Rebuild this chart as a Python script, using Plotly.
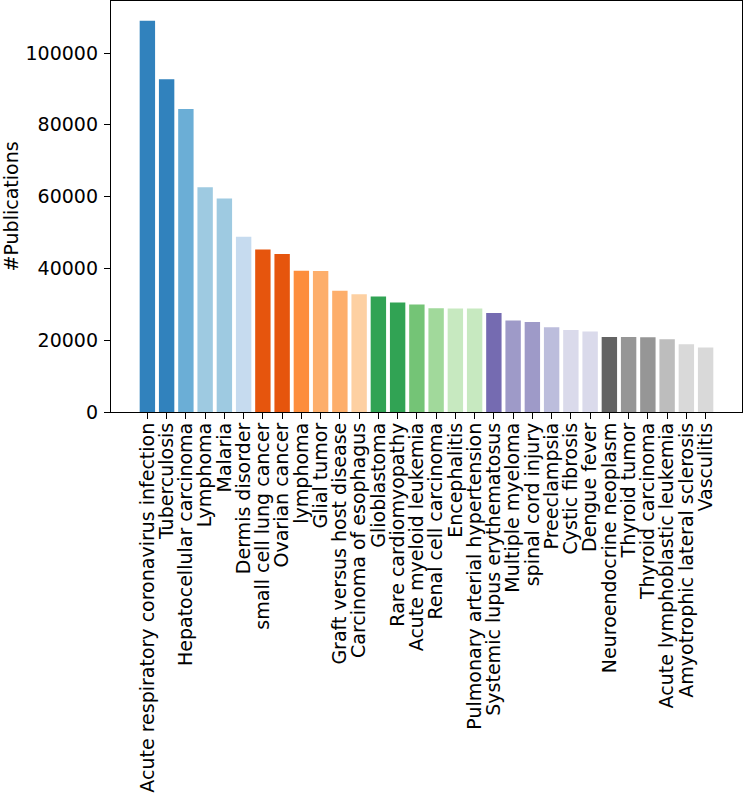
import plotly.graph_objects as go

categories = [
    "Acute respiratory coronavirus infection", "Tuberculosis", "Hepatocellular carcinoma",
    "Lymphoma", "Malaria", "Dermis disorder", "small cell lung cancer", "Ovarian cancer",
    "lymphoma", "Glial tumor", "Graft versus host disease", "Carcinoma of esophagus",
    "Glioblastoma", "Rare cardiomyopathy", "Acute myeloid leukemia", "Renal cell carcinoma",
    "Encephalitis", "Pulmonary arterial hypertension", "Systemic lupus erythematosus",
    "Multiple myeloma", "spinal cord injury", "Preeclampsia", "Cystic fibrosis",
    "Dengue fever", "Neuroendocrine neoplasm", "Thyroid tumor", "Thyroid carcinoma",
    "Acute lymphoblastic leukemia", "Amyotrophic lateral sclerosis", "Vasculitis",
]
publications = [
    109000, 92700, 84400, 62600, 59500, 48800, 45300, 44000, 39330, 39250,
    33750, 32830, 32190, 30520, 29960, 28930, 28840, 28840, 27615, 25500,
    25100, 23630, 22870, 22430, 20920, 20920, 20830, 20280, 18880, 17960,
]
bar_colors = [
    "#3182bd", "#3182bd", "#6baed6", "#9ecae1", "#9ecae1", "#c6dbef",
    "#e6550d", "#e6550d", "#fd8d3c", "#fdae6b", "#fdae6b", "#fdd0a2",
    "#31a354", "#31a354", "#74c476", "#a1d99b", "#c7e9c0", "#c7e9c0",
    "#756bb1", "#9e9ac8", "#9e9ac8", "#bcbddc", "#dadaeb", "#dadaeb",
    "#636363", "#969696", "#969696", "#bdbdbd", "#d9d9d9", "#d9d9d9",
]
y_ticks = [0, 20000, 40000, 60000, 80000, 100000]

xpos = list(range(len(categories)))

fig = go.Figure(
    go.Bar(
        x=xpos,
        y=publications,
        marker=dict(color=bar_colors, line=dict(width=0)),
        width=0.8,
    )
)

font = dict(family="DejaVu Sans", size=19, color="black")
L, R, T, B = 111, 2, 1, 381
W, H = 744, 793
pw = W - L - R

fig.update_layout(
    width=W, height=H,
    margin=dict(l=L, r=R, t=T, b=B),
    plot_bgcolor="white", paper_bgcolor="white",
    font=font,
    showlegend=False,
    xaxis=dict(
        range=[-1.89, 30.89],
        tickmode="array", tickvals=xpos, ticktext=categories,
        tickangle=-90,
        ticks="outside", ticklen=6, tickwidth=1.3, tickcolor="black",
        showline=True, linecolor="black", linewidth=1.3, mirror=True,
        showgrid=False, zeroline=False, automargin=False,
        ticklabelstandoff=-4,
        tickfont=font,
    ),
    yaxis=dict(
        range=[0, 114500],
        tickmode="array", tickvals=y_ticks, ticktext=[str(v) for v in y_ticks],
        ticks="outside", ticklen=6, tickwidth=1.3, tickcolor="black",
        showline=True, linecolor="black", linewidth=1.3, mirror=True,
        showgrid=False, zeroline=False, automargin=False,
        ticklabelstandoff=2,
        tickfont=font,
    ),
    annotations=[
        dict(
            text="#Publications", textangle=-90,
            xref="paper", yref="paper",
            x=-(L - 10) / pw, y=0.5,
            xanchor="center", yanchor="middle",
            showarrow=False, font=font,
        )
    ],
)

fig.write_html("out.html")
